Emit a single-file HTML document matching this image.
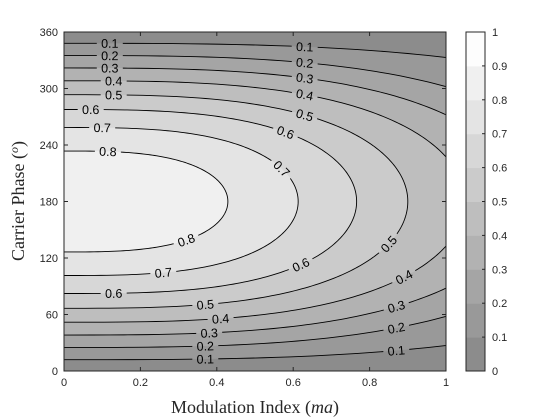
<!DOCTYPE html>
<html><head><meta charset="utf-8"><style>
html,body{margin:0;padding:0;background:#fff;}
svg{display:block;font-family:"Liberation Sans",sans-serif;}
</style></head><body>
<svg id="chart" width="560" height="420" viewBox="0 0 560 420" xmlns="http://www.w3.org/2000/svg">
<defs><clipPath id="plotclip"><rect x="64" y="32" width="382" height="339"/></clipPath>
<mask id="labelmask" maskUnits="userSpaceOnUse" x="0" y="0" width="560" height="420"><rect x="0" y="0" width="560" height="420" fill="#fff"/><g id="maskholes"></g></mask></defs>
<g id="fills" clip-path="url(#plotclip)"></g>
<g clip-path="url(#plotclip)"><g id="lines" mask="url(#labelmask)"></g></g>
<g id="labels" clip-path="url(#plotclip)"></g>
<g id="axes"></g>
<g id="cbar"></g>
<text x="255" y="413" text-anchor="middle" font-family="Liberation Serif,serif" font-size="18" fill="#262626">Modulation Index (<tspan font-style="italic">ma</tspan>)</text>
<text transform="translate(24,201) rotate(-90)" text-anchor="middle" font-family="Liberation Serif,serif" font-size="18" fill="#262626">Carrier Phase (<tspan font-style="italic" font-size="12" dy="-6">o</tspan><tspan dy="6">)</tspan></text>
</svg>
<script>
// ---- data ----
const levels = [0.1,0.2,0.3,0.4,0.5,0.6,0.7,0.8];
// half-span (deg from 180) of each contour at ma = 0
const spanAtZero = [168,155,141.8,128.2,113.4,97.7,78.6,53.6];
// horizontal reach (ma) of each contour at 180 deg
const reachAt180 = [1.80,1.38,1.20,1.05,0.90,0.766,0.613,0.429];
// label positions along ma for upper and lower branches
const upperLabelMa = [[0.12,0.63],[0.12,0.63],[0.12,0.63],[0.13,0.63],[0.13,0.63],[0.07,0.58],[0.10,0.57],[0.115]];
const lowerLabelMa = [[0.37,0.87],[0.37,0.87],[0.38,0.87],[0.41,0.89],[0.37,0.85],[0.13,0.62],[0.26],[0.32]];
const xTicks = [0,0.2,0.4,0.6,0.8,1];
const xTickLabels = ["0","0.2","0.4","0.6","0.8","1"];
const yTicks = [0,60,120,180,240,300,360];
const yTickLabels = ["0","60","120","180","240","300","360"];
const cbTicks = [0,0.1,0.2,0.3,0.4,0.5,0.6,0.7,0.8,0.9,1];
const cbTickLabels = ["0","0.1","0.2","0.3","0.4","0.5","0.6","0.7","0.8","0.9","1"];

const NS="http://www.w3.org/2000/svg";
const X0=64,X1=446,Y0=371,Y1=32, CB0=466, CB1=485;
const R=3;
const sx=m=>X0+m*(X1-X0);
const sy=p=>Y0-p/360*(Y0-Y1);
const bandColor=v=>{const k=Math.min(9,Math.floor(v*10+1e-6));const g=Math.round(140+k*12.5);return `rgb(${g},${g},${g})`;};
function mk(tag,attrs,parent){const e=document.createElementNS(NS,tag);for(const k in attrs)e.setAttribute(k,attrs[k]);parent.appendChild(e);return e;}
function dOf(i,m){const a=reachAt180[i],b=spanAtZero[i];const t=1-Math.pow(m/a,R);return t<=0?0:b*Math.sqrt(t);}
function contourPts(i){const a=reachAt180[i],b=spanAtZero[i];const pts=[];
 for(let k=0;k<=200;k++){const t=-Math.PI/2+Math.PI*k/200;const c=Math.max(0,Math.cos(t));
  const m=a*Math.pow(c,2/R);const d=b*Math.sin(t);pts.push([sx(m),sy(180+d)]);}
 return pts;}
const fills=document.getElementById('fills'),lines=document.getElementById('lines'),labels=document.getElementById('labels'),axes=document.getElementById('axes'),cbar=document.getElementById('cbar'),holes=document.getElementById('maskholes');
let bg=mk('rect',{x:X0,y:Y1,width:X1-X0,height:Y0-Y1,fill:bandColor(0.05)},fills);


levels.forEach((lv,i)=>{
 const pts=contourPts(i);
 const dstr='M'+pts.map(p=>p[0].toFixed(2)+','+p[1].toFixed(2)).join('L');
 const f=mk('path',{d:dstr+'Z',fill:bandColor(lv+0.05),stroke:'none'},fills);
 
 
 const l=mk('path',{d:dstr,fill:'none',stroke:'#000','stroke-width':'0.9'},lines);
 
 
 const place=(m,sign)=>{
  const d=dOf(i,m),d2=dOf(i,m+0.01);
  const x=sx(m),y=sy(180+sign*d),xb=sx(m+0.01),yb=sy(180+sign*d2);
  let ang=Math.atan2(yb-y,xb-x)*180/Math.PI;
  const tr=`translate(${x.toFixed(1)},${y.toFixed(1)}) rotate(${ang.toFixed(1)})`;
  mk('rect',{x:-13,y:-6,width:26,height:12,fill:'#000',transform:tr},holes);
  const g=mk('g',{transform:tr},labels);
  
  
  const t=mk('text',{x:0,y:4.5,'text-anchor':'middle','font-size':'12.5',fill:'#000'},g);
  t.textContent=String(lv);
 };
 upperLabelMa[i].forEach(m=>place(m,1));
 lowerLabelMa[i].forEach(m=>place(m,-1));
});
let box=mk('rect',{x:X0,y:Y1,width:X1-X0,height:Y0-Y1,fill:'none',stroke:'#262626','stroke-width':'1'},axes);


xTicks.forEach((v,i)=>{const x=sx(v);
 mk('line',{x1:x,y1:Y0,x2:x,y2:Y0-4,stroke:'#262626'},axes);
 mk('line',{x1:x,y1:Y1,x2:x,y2:Y1+4,stroke:'#262626'},axes);
 const t=mk('text',{x:x,y:Y0+15,'text-anchor':'middle','font-size':'11',fill:'#262626'},axes);
 t.textContent=xTickLabels[i];
 
 });
yTicks.forEach((v,i)=>{const y=sy(v);
 mk('line',{x1:X0,y1:y,x2:X0+4,y2:y,stroke:'#262626'},axes);
 mk('line',{x1:X1,y1:y,x2:X1-4,y2:y,stroke:'#262626'},axes);
 const t=mk('text',{x:X0-6,y:y+4,'text-anchor':'end','font-size':'11',fill:'#262626'},axes);
 t.textContent=yTickLabels[i];
 
 });
const cy=v=>Y0-v*(Y0-Y1);
for(let k=0;k<10;k++){const r=mk('rect',{x:CB0,y:cy((k+1)/10),width:CB1-CB0,height:(Y0-Y1)/10+0.5,fill:bandColor(k/10+0.05)},cbar);
 
 }
mk('rect',{x:CB0,y:Y1,width:CB1-CB0,height:Y0-Y1,fill:'none',stroke:'#262626'},cbar);
cbTicks.forEach((v,i)=>{const y=cy(v);
 mk('line',{x1:CB1,y1:y,x2:CB1-3,y2:y,stroke:'#262626'},cbar);
 const t=mk('text',{x:CB1+7,y:y+4,'font-size':'11',fill:'#262626'},cbar);
 t.textContent=cbTickLabels[i];
 
 });
</script>
</body></html>
